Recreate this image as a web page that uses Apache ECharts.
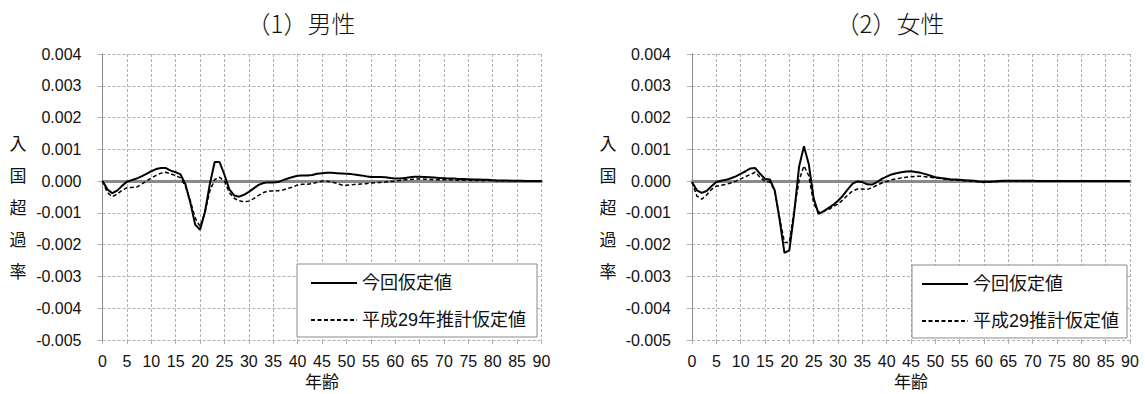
<!DOCTYPE html>
<html>
<head>
<meta charset="utf-8">
<script src="https://cdn.jsdelivr.net/npm/echarts@6/dist/echarts.min.js"></script>
<style>
html,body{margin:0;padding:0;background:#fff;}
#chart{width:1145px;height:394px;}
</style>
</head>
<body>
<div id="chart"></div>
<script>
// ---- data ----
const ages = [];
for (let a = 0; a <= 90; a++) ages.push(a);

const yTicks = ['-0.005','-0.004','-0.003','-0.002','-0.001','0.000','0.001','0.002','0.003','0.004'];

const titleMale = '（1）男性';
const titleFemale = '（2）女性';
const yAxisTitle = '入国超過率';
const xAxisTitle = '年齢';
const nameNow = '今回仮定値';
const namePrevMale = '平成29年推計仮定値';
const namePrevFemale = '平成29推計仮定値';

// 男性 今回仮定値 (ages 0-90)
const maleNow = [
  0, -0.00026, -0.00038, -0.0003, -0.00015, -0.00002, 0.00003, 0.00008, 0.00015, 0.00023,
  0.00031, 0.00038, 0.00041, 0.00041, 0.00033, 0.00028, 0.00021, -0.0001, -0.00067, -0.00137,
  -0.00153, -0.00098, -0.0001, 0.0006, 0.0006, 0.0002, -0.00026, -0.00045, -0.00049, -0.00043,
  -0.00034, -0.00023, -0.00012, -0.00006, -0.00004, -0.00004, -0.00003, 0.00003, 0.00008, 0.00013,
  0.00017, 0.00018, 0.00018, 0.00019, 0.00023, 0.00025, 0.00026, 0.00026, 0.00025, 0.00024,
  0.00023, 0.00022, 0.0002, 0.00018, 0.00015, 0.00013, 0.00013, 0.00013, 0.00012, 0.0001,
  0.00008, 0.00008, 0.0001, 0.00012, 0.00014, 0.00014, 0.00013, 0.00012, 0.00011, 0.0001,
  0.00009, 0.00008, 0.00008, 0.00007, 0.00007, 0.00006, 0.00005, 0.00005, 0.00004, 0.00004,
  0.00003, 0.00002, 0.00002, 0.00002, 0.00001, 0.00001, 0.00001, 0, 0, 0,
  0
];

// 男性 平成29年推計仮定値
const malePrev = [
  0, -0.00036, -0.00049, -0.00041, -0.00029, -0.00021, -0.0002, -0.00019, -0.0001, 0,
  0.0001, 0.00018, 0.00025, 0.00028, 0.00023, 0.00017, 0.0001, -0.00016, -0.00062, -0.00116,
  -0.00143, -0.00098, -0.00031, 0.00005, 0.00012, 0, -0.00036, -0.00054, -0.00062, -0.00065,
  -0.00063, -0.00055, -0.00045, -0.00036, -0.00031, -0.00031, -0.0003, -0.00028, -0.00023, -0.00019,
  -0.00012, -0.0001, -0.0001, -0.00008, -0.00004, 0, 0, -0.00003, -0.00007, -0.00012,
  -0.00013, -0.00012, -0.0001, -0.00009, -0.00008, -0.00006, -0.00005, -0.00004, -0.00003, -0.00001,
  0, 0.00002, 0.00004, 0.00005, 0.00006, 0.00007, 0.00006, 0.00005, 0.00005, 0.00004,
  0.00004, 0.00004, 0.00003, 0.00003, 0.00003, 0.00003, 0.00002, 0.00002, 0.00002, 0.00002,
  0.00002, 0.00001, 0.00001, 0.00001, 0.00001, 0.00001, 0, 0, 0, 0,
  0
];

// 女性 今回仮定値
const femaleNow = [
  -0.00003, -0.00029, -0.00037, -0.00031, -0.00016, -0.00003, 0.00001, 0.00004, 0.00009, 0.00015,
  0.00023, 0.00031, 0.0004, 0.00041, 0.00023, 0.00007, 0.00005, -0.00029, -0.00121, -0.00226,
  -0.00218, -0.001, 0.00045, 0.0011, 0.00053, -0.00054, -0.00103, -0.00095, -0.00085, -0.00075,
  -0.00062, -0.00046, -0.00026, -0.00008, -0.00001, -0.00003, -0.0001, -0.00011, -0.00003, 0.00007,
  0.00014, 0.00021, 0.00025, 0.00028, 0.0003, 0.00031, 0.00029, 0.00026, 0.00022, 0.00017,
  0.00012, 0.0001, 0.00008, 0.00006, 0.00005, 0.00004, 0.00003, 0.00002, 0.00001, -0.00001,
  -0.00002, -0.00002, -0.00001, 0, 0.00001, 0.00001, 0.00001, 0.00001, 0.00001, 0.00001,
  0.00001, 0, 0, 0, 0, 0, 0, 0, 0, 0,
  0, 0, 0, 0, 0, 0, 0, 0, 0, 0,
  0
];

// 女性 平成29推計仮定値
const femalePrev = [
  -0.00003, -0.00047, -0.00057, -0.00044, -0.00026, -0.00016, -0.00013, -0.0001, -0.00006, 0,
  0.00007, 0.00014, 0.00021, 0.00028, 0.00012, -0.00001, -0.00003, -0.00029, -0.00116, -0.00193,
  -0.00193, -0.0009, 0.00002, 0.00048, 0.00017, -0.0007, -0.00098, -0.00095, -0.0009, -0.0008,
  -0.00072, -0.00059, -0.00044, -0.00031, -0.00025, -0.00025, -0.00026, -0.00021, -0.00013, -0.00006,
  -0.00001, 0.00004, 0.00007, 0.0001, 0.00012, 0.00014, 0.00015, 0.00015, 0.00014, 0.00012,
  0.0001, 0.00008, 0.00006, 0.00004, 0.00003, 0.00002, 0.00001, 0, -0.00001, -0.00003,
  -0.00004, -0.00003, -0.00002, -0.00001, 0, 0, 0, 0, 0, 0,
  0, 0, 0, 0, 0, 0, 0, 0, 0, 0,
  0, 0, 0, 0, 0, 0, 0, 0, 0, 0,
  0
];

// ---- styles ----
const FONT = "'Liberation Sans', 'Noto Sans CJK JP', sans-serif";
const CJK = "'Noto Sans CJK JP', sans-serif";
const TEXT = '#111';
const GRID_COLOR = '#b0b0b0';
const AXIS_COLOR = '#8a8a8a';

const grids = [
  { left: 102.5, top: 54, width: 439, height: 291 },
  { left: 692, top: 54, width: 438, height: 291 }
];

function mainX(gi) {
  return {
    gridIndex: gi, type: 'category', data: ages, boundaryGap: false,
    axisLine: { show: false, onZero: false },
    axisTick: { show: true, interval: 4, length: 4, lineStyle: { color: GRID_COLOR } },
    axisLabel: { interval: 4, fontSize: 16, fontFamily: FONT, color: TEXT, margin: 13 },
    splitLine: { show: true, interval: 4, lineStyle: { color: GRID_COLOR, type: [3, 2], width: 1 } },
    name: xAxisTitle, nameLocation: 'middle', nameGap: 32, nameMoveOverlap: false,
    nameTextStyle: { fontSize: 17, fontFamily: CJK, color: TEXT }
  };
}
function zeroX(gi, yi) {
  return {
    gridIndex: gi, type: 'category', data: ages, boundaryGap: false, position: 'bottom',
    axisLine: { show: true, onZero: true, onZeroAxisIndex: yi, lineStyle: { color: AXIS_COLOR, width: 3 } },
    axisTick: { show: false }, axisLabel: { show: false }, splitLine: { show: false }
  };
}
function yAx(gi) {
  return {
    gridIndex: gi, type: 'value', min: -0.005, max: 0.004, interval: 0.001,
    axisLine: { show: true, lineStyle: { color: AXIS_COLOR, width: 1 } },
    axisTick: { show: true, length: 5, lineStyle: { color: GRID_COLOR } },
    axisLabel: {
      fontSize: 16, fontFamily: FONT, color: TEXT, margin: 21,
      formatter: v => yTicks[Math.round(v * 1000) + 5]
    },
    splitLine: { show: true, lineStyle: { color: GRID_COLOR, type: [3, 2], width: 1 } }
  };
}
function solid(name, data, xi, yi) {
  return {
    type: 'line', name, data, xAxisIndex: xi, yAxisIndex: yi,
    symbol: 'none', smooth: false, z: 5,
    lineStyle: { color: '#000', width: 2 }, itemStyle: { color: '#000' }
  };
}
function dashed(name, data, xi, yi) {
  return {
    type: 'line', name, data, xAxisIndex: xi, yAxisIndex: yi,
    symbol: 'none', smooth: false, z: 4,
    lineStyle: { color: '#000', width: 1.5, type: [4, 2.5] }, itemStyle: { color: '#000' }
  };
}
function legend(left, top, names, pad) {
  return {
    left, top, orient: 'vertical', data: names,
    itemWidth: 46, itemHeight: 18, itemGap: 19,
    padding: pad, borderColor: '#8a8a8a', borderWidth: 1, backgroundColor: '#fff',
    itemStyle: { color: 'rgba(0,0,0,0)', borderWidth: 0, opacity: 0 },
    textStyle: { fontSize: 18, fontFamily: FONT, color: TEXT },
    selectedMode: false, z: 10
  };
}

const chart = echarts.init(document.getElementById('chart'), null, { renderer: 'svg' });
chart.setOption({
  animation: false,
  backgroundColor: '#fff',
  grid: grids,
  xAxis: [mainX(0), mainX(1), zeroX(0, 0), zeroX(1, 1)],
  yAxis: [yAx(0), yAx(1)],
  legend: [
    legend(297, 264, [nameNow, namePrevMale], [10, 11, 8, 13]),
    legend(912, 265, [nameNow, namePrevFemale], [10, 8, 8, 9])
  ],
  series: [
    solid(nameNow, maleNow, 0, 0),
    dashed(namePrevMale, malePrev, 0, 0),
    solid(nameNow, femaleNow, 1, 1),
    dashed(namePrevFemale, femalePrev, 1, 1)
  ],
  graphic: [
    { type: 'text', x: 301, y: 22, style: { text: titleMale, font: "300 24px 'Noto Sans CJK JP', sans-serif", fill: TEXT, textAlign: 'center', textVerticalAlign: 'middle' } },
    { type: 'text', x: 890, y: 22, style: { text: titleFemale, font: "300 24px 'Noto Sans CJK JP', sans-serif", fill: TEXT, textAlign: 'center', textVerticalAlign: 'middle' } },
    { type: 'text', x: 18, y: 206, style: { text: yAxisTitle.split('').join('\n'), font: "17px 'Noto Sans CJK JP', sans-serif", lineHeight: 32, fill: TEXT, textAlign: 'center', textVerticalAlign: 'middle' } },
    { type: 'text', x: 608, y: 206, style: { text: yAxisTitle.split('').join('\n'), font: "17px 'Noto Sans CJK JP', sans-serif", lineHeight: 32, fill: TEXT, textAlign: 'center', textVerticalAlign: 'middle' } }
  ]
});
</script>
</body>
</html>
